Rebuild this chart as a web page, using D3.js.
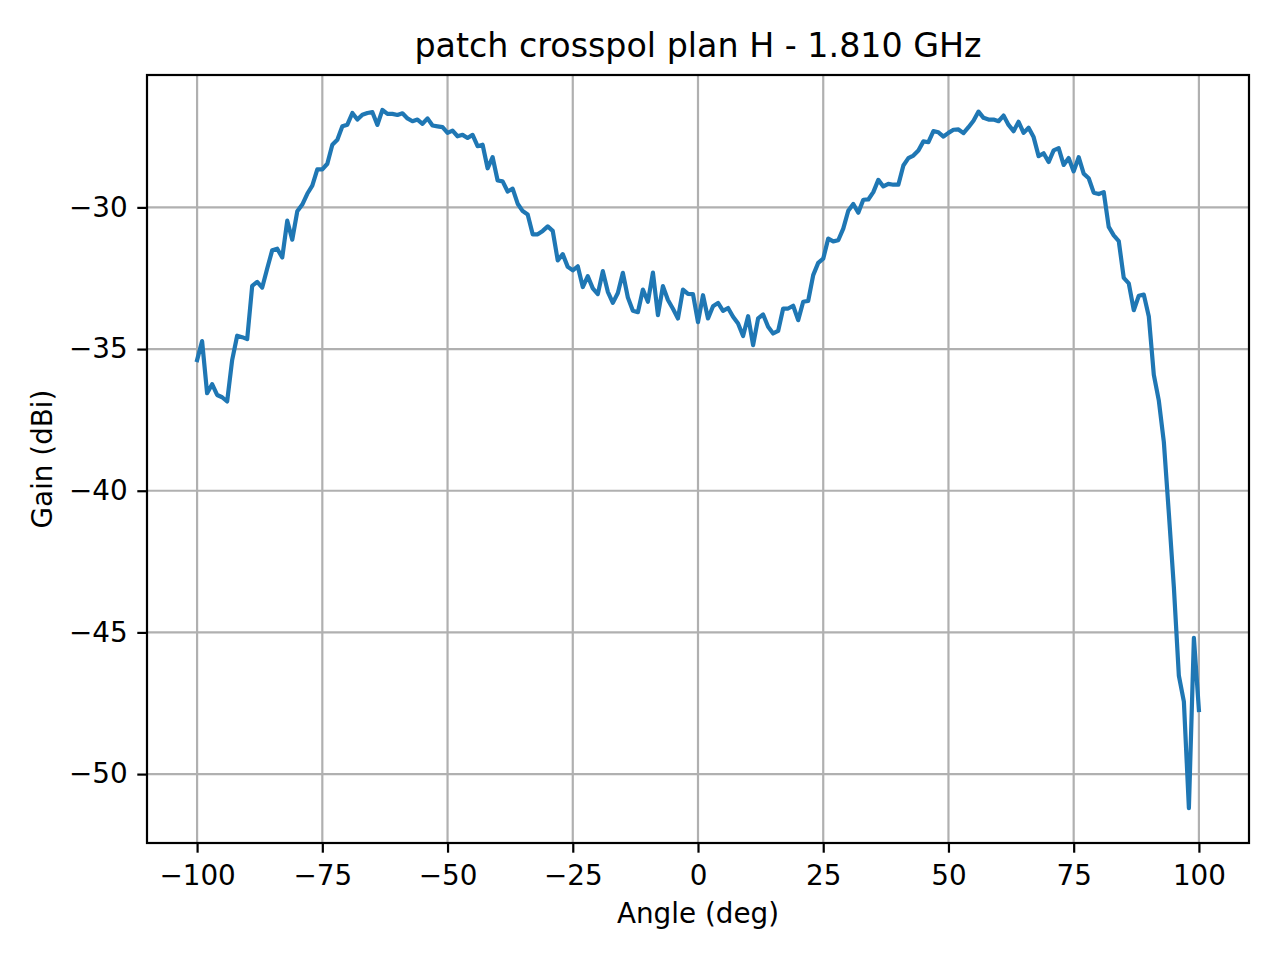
<!DOCTYPE html>
<html>
<head>
<meta charset="utf-8">
<script src="https://cdn.jsdelivr.net/npm/d3@7"></script>
<style>
  body { margin: 0; background: #fff; }
  svg { display: block; font-family: "DejaVu Sans", sans-serif; }
</style>
</head>
<body>
<div class="chart"></div>
<script>
const W = 1280
const H = 960

const margin = ({top: 75, right: 31, bottom: 117, left: 147})
const width = W - margin.left - margin.right
const height = H - margin.top - margin.bottom

const titleText = "patch crosspol plan H - 1.810 GHz"
const xLabel = "Angle (deg)"
const yLabel = "Gain (dBi)"

const xTicks = [-100, -75, -50, -25, 0, 25, 50, 75, 100]
const yTicks = [-50, -45, -40, -35, -30]

const angles = [
  -100, -99, -98, -97, -96, -95, -94, -93, -92, -91,
  -90, -89, -88, -87, -86, -85, -84, -83, -82, -81,
  -80, -79, -78, -77, -76, -75, -74, -73, -72, -71,
  -70, -69, -68, -67, -66, -65, -64, -63, -62, -61,
  -60, -59, -58, -57, -56, -55, -54, -53, -52, -51,
  -50, -49, -48, -47, -46, -45, -44, -43, -42, -41,
  -40, -39, -38, -37, -36, -35, -34, -33, -32, -31,
  -30, -29, -28, -27, -26, -25, -24, -23, -22, -21,
  -20, -19, -18, -17, -16, -15, -14, -13, -12, -11,
  -10, -9, -8, -7, -6, -5, -4, -3, -2, -1,
  0, 1, 2, 3, 4, 5, 6, 7, 8, 9,
  10, 11, 12, 13, 14, 15, 16, 17, 18, 19,
  20, 21, 22, 23, 24, 25, 26, 27, 28, 29,
  30, 31, 32, 33, 34, 35, 36, 37, 38, 39,
  40, 41, 42, 43, 44, 45, 46, 47, 48, 49,
  50, 51, 52, 53, 54, 55, 56, 57, 58, 59,
  60, 61, 62, 63, 64, 65, 66, 67, 68, 69,
  70, 71, 72, 73, 74, 75, 76, 77, 78, 79,
  80, 81, 82, 83, 84, 85, 86, 87, 88, 89,
  90, 91, 92, 93, 94, 95, 96, 97, 98, 99,
  100
]

const gain = [
  -35.39, -34.72, -36.56, -36.24, -36.62, -36.70, -36.85, -35.39, -34.53, -34.58,
  -34.65, -32.77, -32.63, -32.83, -32.16, -31.51, -31.46, -31.77, -30.47, -31.14,
  -30.14, -29.90, -29.52, -29.23, -28.66, -28.66, -28.46, -27.79, -27.61, -27.14,
  -27.08, -26.67, -26.90, -26.73, -26.67, -26.64, -27.09, -26.56, -26.70, -26.70,
  -26.74, -26.68, -26.86, -26.96, -26.90, -27.05, -26.86, -27.11, -27.14, -27.17,
  -27.37, -27.29, -27.49, -27.44, -27.55, -27.44, -27.84, -27.79, -28.62, -28.23,
  -29.05, -29.08, -29.44, -29.34, -29.87, -30.13, -30.25, -30.95, -30.95, -30.83,
  -30.67, -30.83, -31.87, -31.65, -32.10, -32.22, -32.08, -32.81, -32.43, -32.86,
  -33.06, -32.25, -32.98, -33.37, -33.02, -32.31, -33.18, -33.65, -33.70, -32.90,
  -33.33, -32.30, -33.80, -32.78, -33.27, -33.58, -33.92, -32.90, -33.05, -33.06,
  -34.05, -33.10, -33.92, -33.49, -33.37, -33.65, -33.55, -33.86, -34.10, -34.54,
  -33.84, -34.86, -33.92, -33.78, -34.21, -34.45, -34.36, -33.57, -33.57, -33.47,
  -33.98, -33.33, -33.30, -32.39, -31.96, -31.81, -31.10, -31.20, -31.16, -30.75,
  -30.12, -29.88, -30.19, -29.73, -29.72, -29.46, -29.03, -29.26, -29.17, -29.20,
  -29.20, -28.52, -28.26, -28.17, -27.99, -27.67, -27.70, -27.31, -27.35, -27.50,
  -27.37, -27.26, -27.25, -27.38, -27.17, -26.94, -26.62, -26.84, -26.90, -26.90,
  -26.96, -26.76, -27.09, -27.31, -26.98, -27.37, -27.19, -27.52, -28.19, -28.09,
  -28.40, -27.99, -27.91, -28.50, -28.26, -28.73, -28.23, -28.81, -28.97, -29.48,
  -29.53, -29.46, -30.69, -30.99, -31.19, -32.49, -32.68, -33.63, -33.12, -33.08,
  -33.85, -35.91, -36.82, -38.28, -40.80, -43.40, -46.53, -47.44, -51.20, -45.19,
  -47.74
]

const data = angles.map((a, i) => ({angle: a, gain: gain[i]}))

// matplotlib style 5% padding on both axes
const pad = ext => {
  const d = (ext[1] - ext[0]) * 0.05
  return [ext[0] - d, ext[1] + d]
}

const fmt = v => String(v).replace("-", "\u2212")

const svg = d3.select(".chart").append("svg")
    .attr("width", W)
    .attr("height", H)

const g = svg.append("g")
    .attr("transform", `translate(${margin.left},${margin.top})`)

const xScale = d3.scaleLinear()
    .domain(pad(d3.extent(angles)))
    .range([0, width])

const yScale = d3.scaleLinear()
    .domain(pad(d3.extent(gain)))
    .range([height, 0])

// grid
g.append("g")
    .selectAll("line")
    .data(xTicks)
    .enter()
    .append("line")
    .attr("x1", d => xScale(d))
    .attr("x2", d => xScale(d))
    .attr("y1", 0)
    .attr("y2", height)
    .style("stroke", "#b0b0b0")
    .style("stroke-width", 2.2)

g.append("g")
    .selectAll("line")
    .data(yTicks)
    .enter()
    .append("line")
    .attr("x1", 0)
    .attr("x2", width)
    .attr("y1", d => yScale(d))
    .attr("y2", d => yScale(d))
    .style("stroke", "#b0b0b0")
    .style("stroke-width", 2.2)

const line = d3.line()
    .x(d => xScale(d.angle))
    .y(d => yScale(d.gain))

g.append("path")
    .datum(data)
    .attr("d", line)
    .style("fill", "none")
    .style("stroke", "#1f77b4")
    .style("stroke-width", 4.2)
    .style("stroke-linejoin", "round")
    .style("stroke-linecap", "square")

const xAxis = d3.axisBottom(xScale)
    .tickValues(xTicks)
    .tickFormat(fmt)
    .tickSize(9.7)
    .tickPadding(12.7)

const yAxis = d3.axisLeft(yScale)
    .tickValues(yTicks)
    .tickFormat(fmt)
    .tickSize(9.7)
    .tickPadding(9.7)

const gx = g.append("g")
    .attr("transform", `translate(0,${height})`)
    .call(xAxis)

const gy = g.append("g")
    .call(yAxis)

for (const ax of [gx, gy]) {
  ax.select(".domain").remove()
  ax.selectAll(".tick line").style("stroke", "#000").style("stroke-width", 2.2)
  ax.selectAll(".tick text")
    .style("font-family", "DejaVu Sans")
    .style("font-size", "27.8px")
    .style("fill", "#000")
}

// frame
g.append("rect")
    .attr("width", width)
    .attr("height", height)
    .style("fill", "none")
    .style("stroke", "#000")
    .style("stroke-width", 2.2)

svg.append("text")
    .attr("x", margin.left + width / 2)
    .attr("y", 57)
    .attr("text-anchor", "middle")
    .style("font-size", "33.3px")
    .text(titleText)

svg.append("text")
    .attr("x", margin.left + width / 2)
    .attr("y", 923)
    .attr("text-anchor", "middle")
    .style("font-size", "27.8px")
    .text(xLabel)

svg.append("text")
    .attr("transform", `translate(52,${margin.top + height / 2}) rotate(-90)`)
    .attr("text-anchor", "middle")
    .style("font-size", "27.8px")
    .text(yLabel)
</script>
</body>
</html>
